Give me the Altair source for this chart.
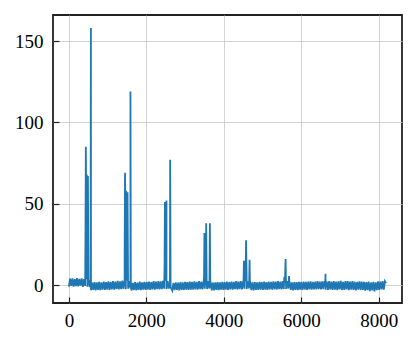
import altair as alt
import pandas as pd

# baseline samples (every 30 channels)
base_step = 30
base_y = [
    # 0-420
    -0.9, 3.9, -0.4, 4.2, -1.0, 3.6, -0.6, 4.3, -0.8, 3.8, -0.3, 4.1, -1.1, 3.7, -0.5,
    # 450-540
    3.6, -1.0, 3.2, -1.2,
    # 570-1380
    -3.2, 1.5, -3.0, 1.9, -3.3, 1.6, -2.9, 2.0, -3.1, 1.7, -2.8, 2.2, -3.0, 1.8,
    -2.7, 2.3, -2.9, 2.0, -2.6, 2.5, -2.8, 2.1, -2.5, 2.6, -2.7, 2.3, -2.4, 2.7,
    # 1410-1590
    -2.3, 2.8, -2.5, 2.6, -2.2, 2.4, -2.0,
    # 1620-2430
    -3.3, 1.4, -3.0, 1.8, -3.2, 1.5, -2.9, 2.1, -3.1, 1.7, -2.8, 2.0, -3.0, 1.9,
    -2.7, 2.2, -2.9, 1.9, -2.6, 2.4, -2.8, 2.2, -2.5, 2.5, -2.7, 2.3, -2.4, 2.6,
    # 2460-2640
    -2.2, 2.7, -2.4, 2.5, -2.1, 2.3, -2.0,
    # 2670-3480
    -3.4, 1.3, -3.1, 1.7, -3.0, 1.5, -3.2, 1.9, -2.9, 1.6, -3.0, 2.0, -2.8, 1.8,
    -2.9, 2.1, -2.7, 1.9, -2.8, 2.3, -2.6, 2.0, -2.7, 2.4, -2.5, 2.2, -2.6, 2.5,
    # 3510-3660
    -2.3, 2.6, -2.4, 2.4, -2.1, 2.2,
    # 3690-4500
    -3.2, 1.5, -3.3, 1.7, -2.9, 1.9, -3.1, 1.6, -2.8, 2.0, -3.0, 1.8, -2.7, 2.1,
    -2.9, 1.9, -2.6, 2.2, -2.8, 2.0, -2.5, 2.4, -2.7, 2.1, -2.4, 2.5, -2.6, 2.3,
    # 4530-4680
    -2.2, 2.5, -2.4, 2.3, -2.0, 2.1,
    # 4710-5550
    -3.1, 1.6, -3.3, 1.8, -2.9, 1.7, -3.0, 2.0, -2.8, 1.9, -3.0, 2.1, -2.7, 1.8,
    -2.9, 2.2, -2.6, 2.0, -2.8, 2.3, -2.6, 2.1, -2.7, 2.4, -2.5, 2.2, -2.6, 2.5, -2.4,
    # 5580-5700
    2.5, -2.3, 2.4, -2.1, 2.2,
    # 5730-6600
    -3.0, 1.7, -3.2, 1.9, -2.9, 1.8, -3.1, 2.0, -2.8, 1.9, -3.0, 2.2, -2.7, 2.0,
    -2.9, 2.1, -2.6, 2.3, -2.8, 2.0, -2.6, 2.2, -2.7, 2.4, -2.5, 2.1, -2.6, 2.3, -2.4, 2.5,
    # 6630-8190
    -2.8, 2.2, -3.0, 2.4, -2.7, 2.1, -2.9, 2.5, -2.8, 2.2, -3.1, 2.3, -2.7, 2.6,
    -2.9, 2.0, -3.0, 2.4, -2.6, 2.5, -3.1, 2.1, -2.8, 2.4, -2.9, 2.2, -3.2, 1.9,
    -2.8, 2.3, -3.0, 2.1, -2.9, 2.0, -3.4, 1.9, -3.1, 2.2, -3.7, 1.6, -3.3, 2.0,
    -3.8, 1.7, -3.1, 2.3, -2.9, 2.2, -2.7, 2.5, -2.8, 2.4, 1.2,
]
base_x = [i * base_step for i in range(len(base_y))]

# peaks
peak_x = [428, 438, 448, 462, 476, 492, 505, 560, 568, 578,
          1440, 1450, 1462, 1480, 1500, 1515, 1528, 1580, 1590, 1600,
          2470, 2480, 2500, 2520, 2533, 2605, 2615, 2627,
          3490, 3500, 3515, 3545, 3558, 3630, 3640, 3652,
          4510, 4520, 4545, 4575, 4590, 4655, 4665, 4675,
          5555, 5562, 5575, 5595, 5605, 5675, 5685, 5695,
          6620, 6625, 6632]
peak_y = [30, 85, 40, 68, 20, 67, 1.0, 0.5, 158, -2.0,
          20, 69, 30, 58, 45, 57, 1.0, 0.5, 119, -1.5,
          10, 51, 35, 52, 1.0, 0.5, 77, -1.5,
          5, 32, 10, 38, 0.5, 0.8, 38, -1.0,
          3, 15, 8, 27.5, 4, 1.0, 15.5, -0.5,
          1, 5, 2, 16, 1, 2, 5.5, 0,
          1, 7, 0]

x_ticks = [0, 2000, 4000, 6000, 8000]
y_ticks = [0, 50, 100, 150]

df = pd.DataFrame({"x": base_x + peak_x, "y": base_y + peak_y}).sort_values("x")

FONT = "Liberation Serif"
W, H = 349, 288

x_scale = alt.Scale(domain=[-410, 8601], nice=False, zero=False)
y_scale = alt.Scale(domain=[-11, 166], nice=False, zero=False)

line = alt.Chart(df).mark_line(color="#1f77b4", strokeWidth=1.8).encode(
    x=alt.X("x:Q", scale=x_scale,
            axis=alt.Axis(values=x_ticks, title=None, grid=True, gridColor="#c8c8c8",
                          gridWidth=0.8, domain=False, ticks=True, tickSize=6,
                          tickColor="#222", tickWidth=1.2, offset=-6, labelPadding=8,
                          labelFont=FONT, labelFontSize=19, labelColor="#000",
                          format="d", labelFlush=False)),
    y=alt.Y("y:Q", scale=y_scale,
            axis=alt.Axis(values=y_ticks, title=None, grid=True, gridColor="#c8c8c8",
                          gridWidth=0.8, domain=False, ticks=True, tickSize=6,
                          tickColor="#222", tickWidth=1.2, offset=-6, labelPadding=10,
                          labelFont=FONT, labelFontSize=19, labelColor="#000",
                          format="d", labelFlush=False)),
)

chart = line.properties(
    width=W, height=H,
    autosize=alt.AutoSizeParams(type="none"),
    padding={"left": 45, "top": 7, "right": 7, "bottom": 33},
).configure_view(stroke="#222", strokeWidth=1.8)

chart.save("out.html", embed_options={"renderer": "svg", "actions": False})
